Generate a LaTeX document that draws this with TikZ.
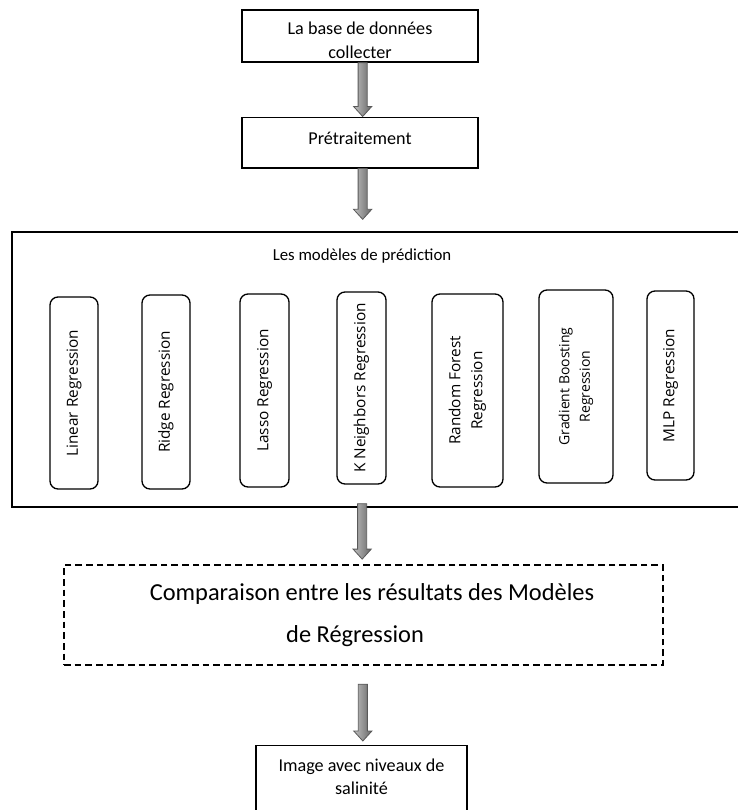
\documentclass[tikz,border=0pt]{standalone}
\usepackage{fontspec}
\setmainfont{Carlito}
\newfontfamily\modelfont{Open Sans}
\usetikzlibrary{calc}
\tikzset{
  stage/.style={draw,line width=1pt,minimum width=177pt},
  stagetext/.style={align=center,font=\fontsize{13.6}{18}\selectfont},
  model/.style={draw,line width=1pt,rounded corners=6pt,rotate=90,align=center,inner sep=0pt,
    font=\modelfont\fontsize{11.5}{16.5}\selectfont},
  blockarrow/.style={draw=black!65,line width=0.6pt,left color=gray!50,right color=gray!80!black,
    to path={let \p1=(\tikztostart), \p2=(\tikztotarget) in
      (\x1-3.4pt,\y1) -- (\x1+3.4pt,\y1) -- (\x1+3.4pt,\y2+7.5pt) -- (\x1+6.8pt,\y2+7.5pt)
      -- (\x1,\y2) -- (\x1-6.8pt,\y2+7.5pt) -- (\x1-3.4pt,\y2+7.5pt) -- cycle}}
}
\begin{document}
\begin{tikzpicture}[x=0.75pt,y=-0.75pt]
  \useasboundingbox (0,0) rectangle (738,810);
  \clip (0,0) rectangle (738,810);
  % top stages
  \node[stage,minimum height=39pt] (base) at (360,36) {};
  \node[stagetext] (base-t) at (360,40) {La base de données\\collecter};
  \node[stage,minimum height=38pt] (prep) at (360,142.5) {};
  \node[stagetext] (prep-t) at (360,138) {Prétraitement};
  % prediction models
  \node[draw,line width=1pt,minimum width=553.5pt,minimum height=206.25pt] (models) at (381,369.5) {};
  \node[font=\fontsize{12.6}{14}\selectfont] (title) at (362,256) {Les modèles de prédiction};
  \node[model,minimum width=144pt,minimum height=36pt] (lin) at (74,393) {Linear Regression};
  \node[model,minimum width=145.5pt,minimum height=36pt] (ridge) at (166,392) {Ridge Regression};
  \node[model,minimum width=144.75pt,minimum height=36.75pt] (lasso) at (264.5,390.5) {Lasso Regression};
  \node[model,minimum width=144pt,minimum height=36.75pt] (knn) at (361.5,388) {K Neighbors Regression};
  \node[model,minimum width=144.75pt,minimum height=53.25pt] (rf) at (467.5,390.5) {Random Forest\\Regression};
  \node[model,minimum width=144.75pt,minimum height=55.5pt,font=\modelfont\fontsize{10.5}{15.5}\selectfont] (gb) at (576,386.5) {Gradient Boosting\\Regression};
  \node[model,minimum width=141.75pt,minimum height=35.25pt] (mlp) at (670.5,385.5) {MLP Regression};
  % comparison and result
  \node[draw,dashed,dash pattern=on 5pt off 3pt,line width=0.8pt,align=center,
    font=\fontsize{18.3}{31.5}\selectfont,minimum width=449.25pt,minimum height=75pt] (comp) at (363.5,615)
    {\hspace*{12.75pt}Comparaison entre les résultats des Modèles\\de Régression\hspace*{12.75pt}};
  \node[stage,anchor=north,minimum width=158.25pt,minimum height=60pt] (final) at (361.5,745) {};
  \node[stagetext,font=\fontsize{13.6}{17.25}\selectfont] (final-t) at (361.5,776.5) {Image avec niveaux de\\salinité};
  \coordinate (m3) at (models.south -| comp.north);
  \coordinate (f4) at (comp.south -| final.north);
  % arrows
  \draw[blockarrow] ([xshift=2pt]base.south) to ([xshift=2pt]prep.north);
  \draw[blockarrow] ([xshift=2pt]prep.south) to ([yshift=9pt]models.north);
  \draw[blockarrow] ([yshift=3pt,xshift=-1pt]m3) to ([yshift=4pt]comp.north);
  \draw[blockarrow] ([yshift=-14pt,xshift=1pt]f4) to ([yshift=3pt]final.north);
\end{tikzpicture}
\end{document}
